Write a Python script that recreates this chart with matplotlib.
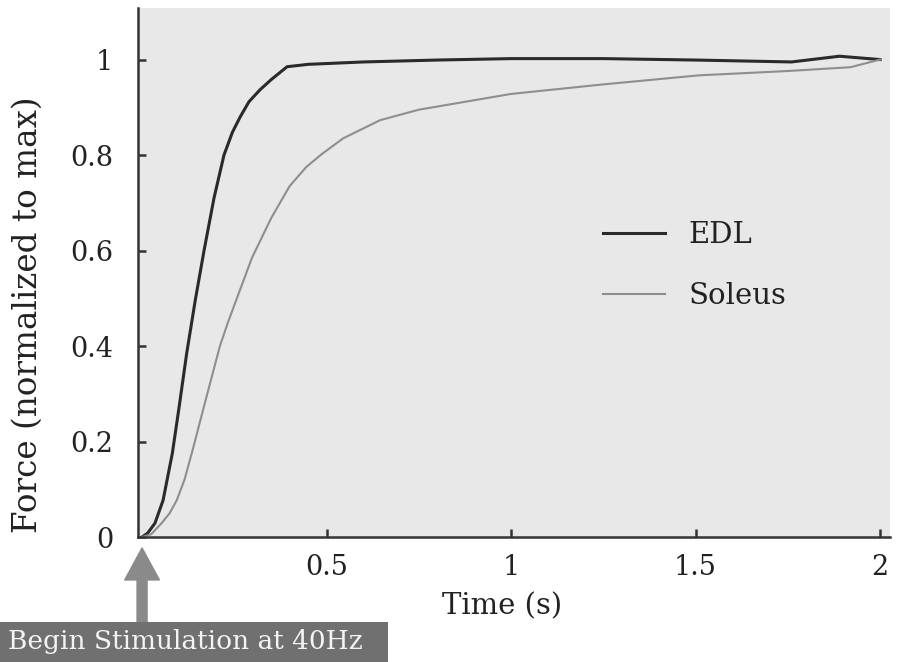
import matplotlib
matplotlib.use("Agg")
import matplotlib.pyplot as plt
from matplotlib.patches import Rectangle

# values
edl_t = [0, 0.015, 0.035, 0.057, 0.082, 0.1, 0.121, 0.144, 0.168, 0.195, 0.222,
         0.245, 0.266, 0.29, 0.32, 0.35, 0.393, 0.45, 0.6, 0.8, 1.0, 1.25, 1.5,
         1.76, 1.89, 2.0]
edl_f = [0, 0.008, 0.029, 0.077, 0.175, 0.27, 0.385, 0.495, 0.60, 0.71, 0.80,
         0.848, 0.88, 0.912, 0.937, 0.958, 0.985, 0.99, 0.995, 0.999, 1.002,
         1.002, 0.999, 0.995, 1.007, 1.0]

sol_t = [0, 0.025, 0.053, 0.075, 0.094, 0.115, 0.137, 0.17, 0.211, 0.233, 0.257,
         0.298, 0.35, 0.40, 0.445, 0.487, 0.545, 0.645, 0.75, 1.0, 1.25, 1.51,
         1.75, 1.92, 2.0]
sol_f = [0, 0.006, 0.029, 0.05, 0.077, 0.12, 0.182, 0.28, 0.40, 0.45, 0.50,
         0.585, 0.668, 0.735, 0.775, 0.802, 0.835, 0.873, 0.895, 0.928, 0.948,
         0.967, 0.976, 0.984, 1.0]

x_ticks = [0.5, 1, 1.5, 2]
x_labels = ['0.5', '1', '1.5', '2']
y_ticks = [0, 0.2, 0.4, 0.6, 0.8, 1]
y_labels = ['0', '0.2', '0.4', '0.6', '0.8', '1']

plt.rcParams['font.family'] = ['DejaVu Serif']
txt = '#222222'

fig = plt.figure(figsize=(8.99, 6.62), dpi=100)
ax = fig.add_axes([138/899, 1 - 537/662, (890 - 138)/899, (537 - 8)/662])
ax.set_facecolor('#e8e8e8')

ax.plot(edl_t, edl_f, color='#2a2a2a', lw=2.2, label='EDL')
ax.plot(sol_t, sol_f, color='#8e8e8e', lw=1.5, label='Soleus')

ax.set_xlim(-0.011, 2.027)
ax.set_ylim(0, 1.108)
ax.set_xticks(x_ticks)
ax.set_xticklabels(x_labels)
ax.set_yticks(y_ticks)
ax.set_yticklabels(y_labels)

for s in ['top', 'right']:
    ax.spines[s].set_visible(False)
for s in ['left', 'bottom']:
    ax.spines[s].set_linewidth(1.8)
    ax.spines[s].set_color('#333333')

ax.tick_params(axis='both', direction='in', length=6, width=1.8,
               colors='#333333', labelsize=19.5, labelcolor=txt)
ax.tick_params(axis='y', pad=18)
ax.tick_params(axis='x', pad=12)

ax.set_xlabel('Time (s)', fontsize=21, color=txt, labelpad=8)
ax.xaxis.set_label_coords(0.484, -0.105)
ax.set_ylabel('Force (normalized to max)', fontsize=23.5, color=txt)
ax.yaxis.set_label_coords(-0.125, 0.42)

ax.legend(loc='center left', bbox_to_anchor=(0.619, 0.513), frameon=False,
          fontsize=21, handlelength=2.12, handletextpad=0.79, labelspacing=1.15,
          borderpad=0, borderaxespad=0, labelcolor=txt)

# stimulation marker below the x axis
ax.annotate('', xy=(0, -0.023), xytext=(0, -0.18), xycoords='data',
            annotation_clip=False,
            arrowprops=dict(arrowstyle='simple,head_length=2.3,head_width=2.5,tail_width=0.72',
                            color='#8a8a8a', shrinkA=0, shrinkB=0))
fig.patches.append(Rectangle((0, 0), 388/899, 40/662, transform=fig.transFigure,
                             facecolor='#707070', edgecolor='none'))
fig.text(8/899, 20/662, 'Begin Stimulation at 40Hz', fontsize=19,
         color='#f4f4f4', ha='left', va='center')

plt.savefig('out.png', dpi=100)
